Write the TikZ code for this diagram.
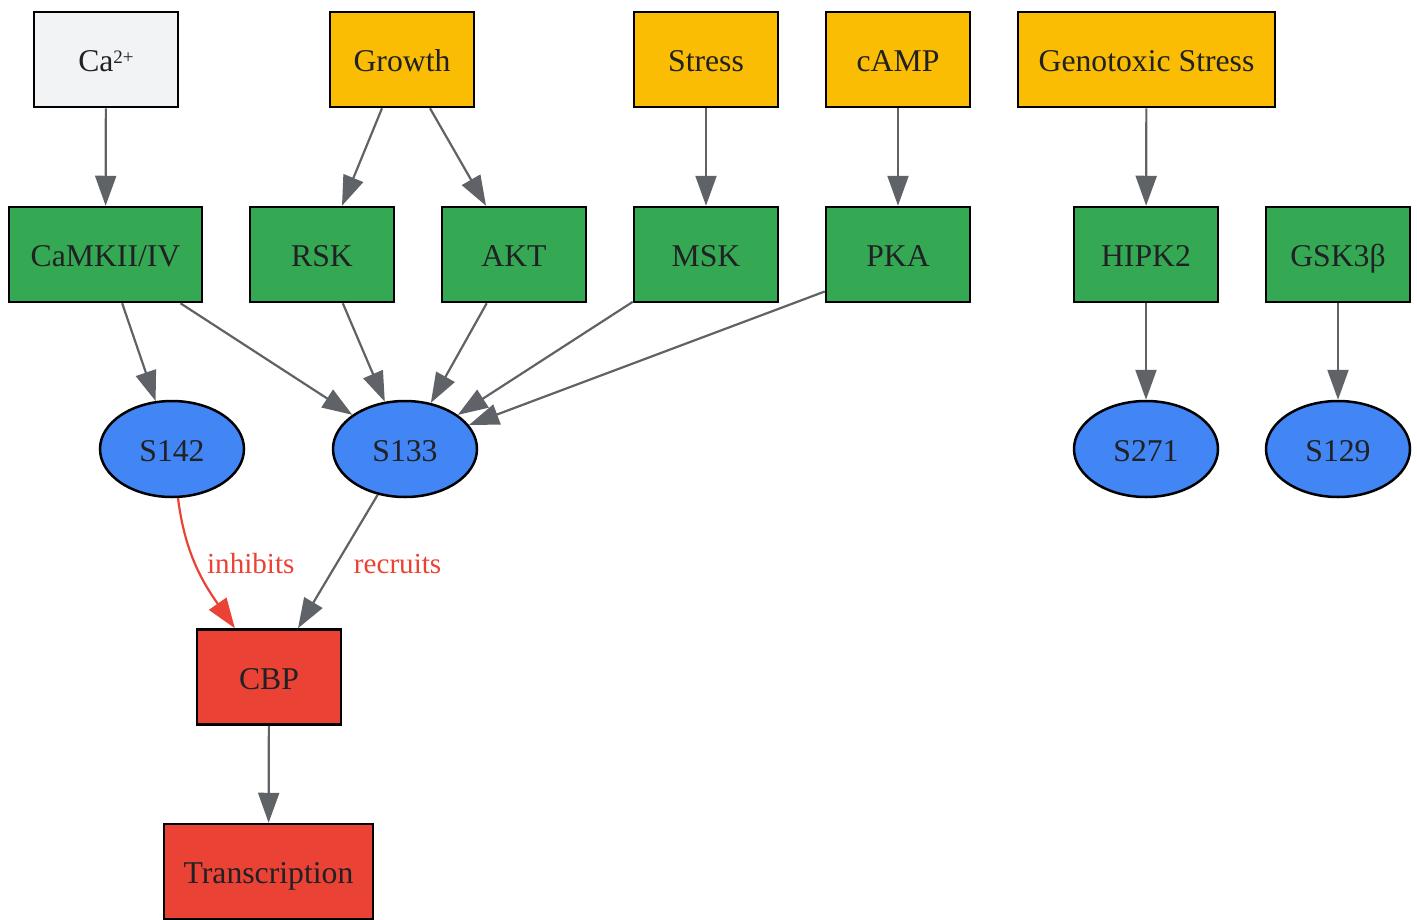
\documentclass[tikz,border=0pt]{standalone}
\usepackage{fontspec}
\setmainfont{Liberation Serif}
\usetikzlibrary{arrows.meta,shapes.geometric}
\definecolor{cagray}{HTML}{F1F3F4}
\definecolor{gyellow}{HTML}{FBBC04}
\definecolor{ggreen}{HTML}{34A853}
\definecolor{gblue}{HTML}{4285F4}
\definecolor{gred}{HTML}{EA4335}
\definecolor{txt}{HTML}{202124}
\definecolor{edgegray}{HTML}{5F6368}
\begin{document}
\begin{tikzpicture}[x=1pt,y=-1pt,
  box/.style={rectangle, draw=black, line width=2.5pt, minimum width=144pt, minimum height=95pt,
    inner sep=0pt, text height=24pt, text depth=0pt, text=txt, font=\fontsize{31.7}{38}\selectfont},
  ell/.style={ellipse, draw=black, line width=2.5pt, fill=gblue, minimum width=144pt, minimum height=96pt,
    inner sep=0pt, text height=24pt, text depth=0pt, text=txt, font=\fontsize{31.7}{38}\selectfont},
  srcbox/.style={box, fill=gyellow},
  kinbox/.style={box, fill=ggreen},
  redbox/.style={box, fill=gred},
  conn/.style={draw=edgegray, line width=2.2pt, -{Triangle[length=30pt,width=21pt]}},
  rconn/.style={draw=gred, line width=2.2pt, -{Triangle[length=30pt,width=21pt]}},
  lbl/.style={text=gred, font=\fontsize{29.1}{34}\selectfont, inner sep=0pt}
]
\useasboundingbox (0,0) rectangle (1417,919);

% row 1
\node[box, fill=cagray] (ca) at (106,59.5) {Ca\raisebox{8pt}{\fontsize{19}{20}\selectfont 2+}};
\node[srcbox] (growth) at (402,59.5) {Growth};
\node[srcbox] (stress) at (706,59.5) {Stress};
\node[srcbox] (camp) at (898,59.5) {cAMP};
\node[srcbox, minimum width=257pt] (geno) at (1146.5,59.5) {Genotoxic Stress};

% row 2
\node[kinbox, minimum width=193pt] (camk) at (105.5,254.5) {CaMKII/IV};
\node[kinbox] (rsk) at (322,254.5) {RSK};
\node[kinbox] (akt) at (514,254.5) {AKT};
\node[kinbox] (msk) at (706,254.5) {MSK};
\node[kinbox] (pka) at (898,254.5) {PKA};
\node[kinbox] (hipk) at (1146,254.5) {HIPK2};
\node[kinbox] (gsk) at (1338,254.5) {GSK3β};

% row 3
\node[ell] (s142) at (172,449) {S142};
\node[ell] (s133) at (405,449) {S133};
\node[ell] (s271) at (1146,449) {S271};
\node[ell] (s129) at (1338,449) {S129};

% bottom
\node[redbox] (cbp) at (269,677) {CBP};
\node[redbox, minimum width=209pt] (trans) at (268.5,871.5) {Transcription};

% edges
\draw[conn] (ca) -- (camk);
\draw[conn] (growth) -- (rsk);
\draw[conn] (growth) -- (akt);
\draw[conn] (stress) -- (msk);
\draw[conn] (camp) -- (pka);
\draw[conn] (geno) -- (hipk);
\draw[conn] (camk) -- (s142);
\draw[conn] (camk) -- (s133);
\draw[conn] (rsk) -- (s133);
\draw[conn] (akt) -- (s133);
\draw[conn] (msk) -- (s133);
\draw[conn] ([yshift=-37pt]pka.west) -- (s133);
\draw[conn] (hipk) -- (s271);
\draw[conn] (gsk) -- (s129);
\draw[rconn] (s142) to[out=-83,in=125] node[lbl, pos=0.5, anchor=west, xshift=9pt, yshift=3pt] {inhibits} (cbp);
\draw[conn] (s133) -- node[lbl, pos=0.5, anchor=west, xshift=15pt, yshift=-3pt] {recruits} (cbp);
\draw[conn] (cbp) -- (trans);
\end{tikzpicture}
\end{document}
